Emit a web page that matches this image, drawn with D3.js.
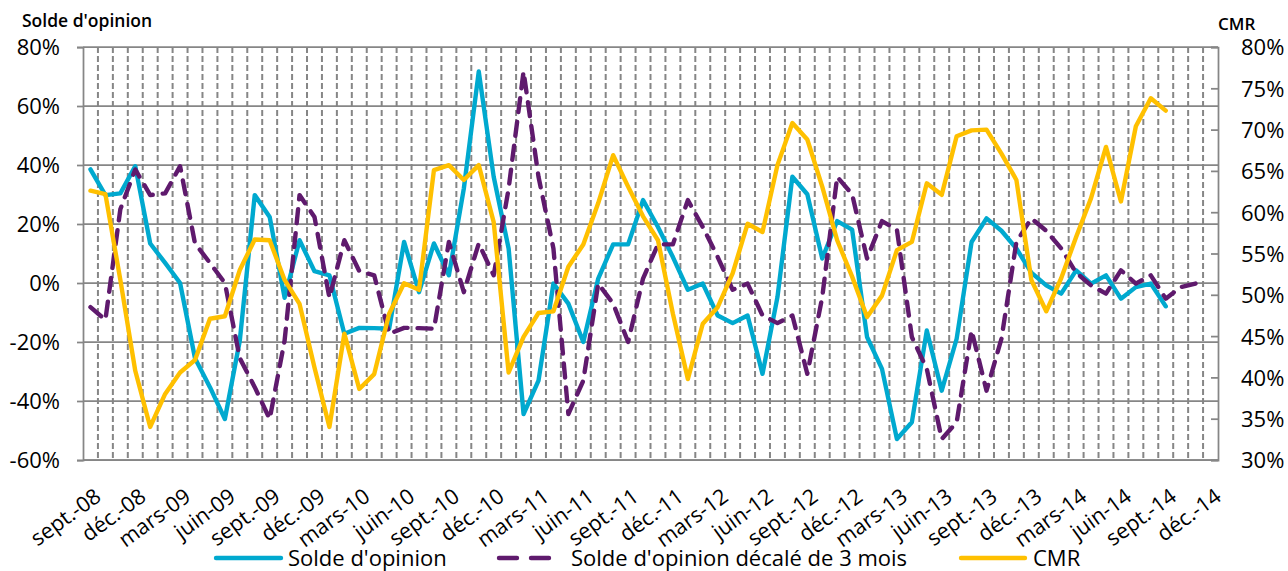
<!DOCTYPE html>
<html>
<head>
<meta charset="utf-8">
<script src="https://cdn.jsdelivr.net/npm/d3@7"></script>
<style>
  html, body { margin: 0; padding: 0; background: #fff; }
  svg { display: block; }
  text { font-family: "Open Sans", "Noto Sans", sans-serif; fill: #000; }
</style>
</head>
<body>
<svg id="chart" width="1288" height="571"></svg>
<script>
// ---------- DATA ----------
const categories = [
  "sept.-08","oct.-08","nov.-08","déc.-08",
  "janv.-09","févr.-09","mars-09","avr.-09","mai-09","juin-09","juil.-09","août-09","sept.-09","oct.-09","nov.-09","déc.-09",
  "janv.-10","févr.-10","mars-10","avr.-10","mai-10","juin-10","juil.-10","août-10","sept.-10","oct.-10","nov.-10","déc.-10",
  "janv.-11","févr.-11","mars-11","avr.-11","mai-11","juin-11","juil.-11","août-11","sept.-11","oct.-11","nov.-11","déc.-11",
  "janv.-12","févr.-12","mars-12","avr.-12","mai-12","juin-12","juil.-12","août-12","sept.-12","oct.-12","nov.-12","déc.-12",
  "janv.-13","févr.-13","mars-13","avr.-13","mai-13","juin-13","juil.-13","août-13","sept.-13","oct.-13","nov.-13","déc.-13",
  "janv.-14","févr.-14","mars-14","avr.-14","mai-14","juin-14","juil.-14","août-14","sept.-14","oct.-14","nov.-14","déc.-14"
];

// Solde d'opinion (%), sept.-08 .. sept.-14
const solde = [
  38.5, 29.8, 30.4, 39.6, 13.4, 6.8, 0.0, -25.5, -35.3, -46.1, -19.5, 29.8,
  22.4, -5.0, 14.5, 4.0, 2.6, -17.2, -15.2, -15.3, -15.5, 13.9, -3.1, 13.4,
  2.6, 32.0, 71.7, 36.0, 11.7, -44.4, -33.1, -0.2, -7.0, -20.0, 1.5, 13.1,
  13.1, 28.1, 19.0, 8.8, -2.3, -0.2, -11.0, -13.6, -11.0, -30.8, -4.8, 36.0,
  30.1, 8.3, 21.0, 18.1, -18.3, -29.1, -52.9, -47.2, -16.1, -36.5, -18.9, 13.9,
  21.9, 17.7, 11.7, 3.5, -0.8, -3.6, 4.3, -0.2, 2.6, -5.3, -1.4, -0.2, -7.9
];

// Solde d'opinion décalé de 3 mois (%), sept.-08 .. nov.-14
const soldeDecale = [
  -8.2, -12.5, 25.0,
  38.5, 29.8, 30.4, 39.6, 13.4, 6.8, 0.0, -25.5, -35.3, -46.1, -19.5, 29.8,
  22.4, -5.0, 14.5, 4.0, 2.6, -17.2, -15.2, -15.3, -15.5, 13.9, -3.1, 13.4,
  2.6, 32.0, 71.7, 36.0, 11.7, -44.4, -33.1, -0.2, -7.0, -20.0, 1.5, 13.1,
  13.1, 28.1, 19.0, 8.8, -2.3, -0.2, -11.0, -13.6, -11.0, -30.8, -4.8, 36.0,
  30.1, 8.3, 21.0, 18.1, -18.3, -29.1, -52.9, -47.2, -16.1, -36.5, -18.9, 13.9,
  21.9, 17.7, 11.7, 3.5, -0.8, -3.6, 4.3, -0.2, 2.6, -5.3, -1.4, -0.2
];

// CMR (%), sept.-08 .. sept.-14 (right axis)
const cmr = [
  62.6, 62.2, 51.8, 40.8, 34.0, 38.0, 40.6, 42.1, 47.1, 47.4, 53.0, 56.7,
  56.6, 51.8, 48.9, 41.2, 34.0, 45.3, 38.6, 40.4, 47.7, 51.4, 50.6, 65.1,
  65.7, 63.9, 65.7, 58.8, 40.6, 44.9, 47.8, 48.0, 53.4, 56.1, 61.1, 66.9,
  63.1, 59.5, 56.6, 47.7, 39.8, 46.5, 48.5, 52.6, 58.6, 57.6, 65.7, 70.8,
  68.8, 63.1, 56.6, 52.2, 47.3, 49.9, 55.4, 56.4, 63.5, 62.1, 69.2, 69.9,
  70.0, 67.1, 63.9, 51.8, 48.0, 52.0, 57.0, 61.7, 67.9, 61.3, 70.4, 73.8, 72.3
];

const leftTicks = [-60, -40, -20, 0, 20, 40, 60, 80];
const rightTicks = [30, 35, 40, 45, 50, 55, 60, 65, 70, 75, 80];
const xTickLabels = categories.filter((d, i) => i % 3 === 0);

const seriesNames = ["Solde d'opinion", "Solde d'opinion décalé de 3 mois", "CMR"];
const leftTitle = "Solde d'opinion";
const rightTitle = "CMR";

// ---------- LAYOUT ----------
const L = 83, R = 1218, T = 47, B = 460;
const colBlue = "#00A9CF", colPurple = "#5F1A6D", colYellow = "#FFC000";
const gridCol = "#868686";
const FONT = "'Open Sans', 'Noto Sans', sans-serif";

const svg = d3.select("#chart");

const x = d3.scaleBand().domain(categories).range([L, R]).padding(0);
const bw = x.bandwidth();
const xc = d => x(d) + bw / 2;
const yL = d3.scaleLinear().domain([-60, 80]).range([B, T]);
const yR = d3.scaleLinear().domain([30, 80]).range([B, T]);

// vertical dashed gridlines at category boundaries
svg.append("g").selectAll("line")
  .data(categories.slice(1))
  .join("line")
  .attr("x1", d => x(d)).attr("x2", d => x(d))
  .attr("y1", T).attr("y2", B)
  .attr("stroke", gridCol).attr("stroke-width", 2)
  .attr("stroke-dasharray", "6,3");

// horizontal gridlines (left axis)
svg.append("g").selectAll("line")
  .data(leftTicks)
  .join("line")
  .attr("x1", L).attr("x2", R)
  .attr("y1", d => yL(d)).attr("y2", d => yL(d))
  .attr("stroke", gridCol).attr("stroke-width", 1.75);

// left axis
const axL = svg.append("g").attr("transform", `translate(${L},0)`)
  .call(d3.axisLeft(yL).tickValues(leftTicks).tickSize(6).tickPadding(17).tickFormat(d => d + "%"));
axL.select(".domain").attr("stroke", gridCol).attr("stroke-width", 1.75);
axL.selectAll(".tick line").attr("stroke", gridCol).attr("stroke-width", 1.75);
axL.selectAll(".tick text").style("font-size", "22px").attr("fill", "#000").attr("dy", "0.36em")
  .style("font-family", FONT);

// right axis
const axR = svg.append("g").attr("transform", `translate(${R},0)`)
  .call(d3.axisLeft(yR).tickValues(rightTicks).tickSize(7).tickFormat(d => d + "%"));
axR.select(".domain").attr("stroke", gridCol).attr("stroke-width", 1.75);
axR.selectAll(".tick line").attr("stroke", gridCol).attr("stroke-width", 1.75);
axR.selectAll(".tick text").attr("x", 23).attr("text-anchor", "start")
  .style("font-size", "22px").attr("fill", "#000").attr("dy", "0.36em")
  .style("font-family", FONT);

// bottom axis line
svg.append("line").attr("x1", L).attr("x2", R).attr("y1", B).attr("y2", B)
  .attr("stroke", gridCol).attr("stroke-width", 1.75);

// x tick labels (rotated)
svg.append("g").selectAll("text")
  .data(xTickLabels)
  .join("text")
  .attr("transform", d => `translate(${xc(d) + 3},${B + 27}) rotate(-36)`)
  .attr("text-anchor", "end")
  .attr("dy", "0.72em")
  .style("font-size", "21.5px")
  .text(d => d);

// lines
const lineL = d3.line().x((d, i) => xc(categories[i])).y(d => yL(d));
const lineR = d3.line().x((d, i) => xc(categories[i])).y(d => yR(d));

svg.append("path").datum(solde).attr("d", lineL)
  .attr("fill", "none").attr("stroke", colBlue).attr("stroke-width", 4.4)
  .attr("stroke-linejoin", "round").attr("stroke-linecap", "round");

svg.append("path").datum(soldeDecale).attr("d", lineL)
  .attr("fill", "none").attr("stroke", colPurple).attr("stroke-width", 4.4)
  .attr("stroke-dasharray", "14,10").attr("stroke-linecap", "round")
  .attr("stroke-linejoin", "round");

svg.append("path").datum(cmr).attr("d", lineR)
  .attr("fill", "none").attr("stroke", colYellow).attr("stroke-width", 4.4)
  .attr("stroke-linejoin", "round").attr("stroke-linecap", "round");

// axis titles
svg.append("text").attr("x", 22).attr("y", 27).style("font-size", "17.5px").style("font-weight", "600").text(leftTitle);
svg.append("text").attr("x", 1218).attr("y", 30).style("font-size", "17px").style("font-weight", "600").text(rightTitle);

// legend
const legendY = 558;
const legendItems = [
  { name: seriesNames[0], x1: 216, x2: 281, tx: 288, color: colBlue, dash: null },
  { name: seriesNames[1], x1: 499, x2: 549, tx: 571, color: colPurple, dash: "18,14" },
  { name: seriesNames[2], x1: 961, x2: 1025, tx: 1033, color: colYellow, dash: null }
];
const lg = svg.append("g");
legendItems.forEach(it => {
  const ln = lg.append("line").attr("x1", it.x1).attr("x2", it.x2).attr("y1", legendY).attr("y2", legendY)
    .attr("stroke", it.color).attr("stroke-width", 4.4).attr("stroke-linecap", "round");
  if (it.dash) ln.attr("stroke-dasharray", it.dash);
  lg.append("text").attr("x", it.tx).attr("y", legendY + 7.5).style("font-size", "22px").text(it.name);
});
</script>
</body>
</html>
